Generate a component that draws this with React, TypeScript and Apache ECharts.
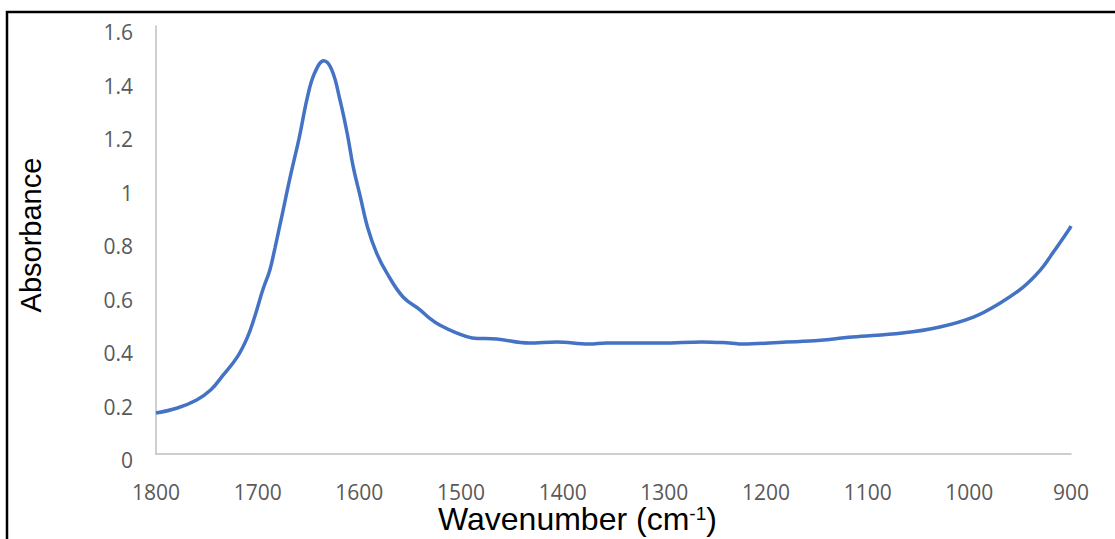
import React, { useEffect, useRef } from "react";
import * as echarts from "echarts";

const wavenumbers = [
  1800, 1779, 1760, 1746, 1734, 1720, 1710, 1703, 1695, 1688, 1683, 1677, 1668, 1659, 1651, 1644,
  1635, 1627, 1619, 1612, 1606, 1599, 1592, 1583, 1573, 1557, 1540, 1531, 1521, 1504, 1489, 1465,
  1433, 1406, 1374, 1357, 1302, 1263, 1236, 1223, 1180, 1157, 1115, 1066, 1029, 996, 970, 947, 930,
  918, 909, 901, 900,
];
const absorbance = [
  0.153, 0.172, 0.202, 0.24, 0.295, 0.363, 0.437, 0.512, 0.613, 0.688, 0.77, 0.875, 1.036, 1.185,
  1.335, 1.424, 1.47, 1.435, 1.323, 1.2, 1.073, 0.961, 0.849, 0.751, 0.677, 0.587, 0.538, 0.508,
  0.482, 0.452, 0.434, 0.43, 0.415, 0.419, 0.411, 0.415, 0.415, 0.419, 0.415, 0.411, 0.419, 0.422,
  0.437, 0.452, 0.475, 0.512, 0.564, 0.624, 0.688, 0.751, 0.8, 0.845, 0.852,
];

const xTitle = "Wavenumber (cm";
const xTitleSup = "-1";
const yTitle = "Absorbance";

export default function App() {
  const ref = useRef<HTMLDivElement>(null);
  useEffect(() => {
    if (!ref.current) return;
    const chart = echarts.init(ref.current, null, { renderer: "svg" });
    const data = wavenumbers.map((w, i) => [w, absorbance[i]]);
    chart.setOption({
      animation: false,
      backgroundColor: "#fff",
      grid: { left: 156, right: 1115 - 1071, top: 26, bottom: 539 - 454, containLabel: false },
      xAxis: {
        type: "value",
        inverse: true,
        min: 900,
        max: 1800,
        interval: 100,
        axisLine: { show: true, lineStyle: { color: "#bfbfbf", width: 1.5 } },
        axisTick: { show: false },
        splitLine: { show: false },
        axisLabel: {
          color: "#595959",
          fontFamily: "Open Sans",
          fontSize: 21,
          margin: 31,
          lineHeight: 14,
          formatter: (v: number) => String(v),
        },
      },
      yAxis: {
        type: "value",
        min: 0,
        max: 1.6,
        interval: 0.2,
        axisLine: { show: true, lineStyle: { color: "#bfbfbf", width: 1.5 } },
        axisTick: { show: false },
        splitLine: { show: false },
        axisLabel: {
          color: "#595959",
          fontFamily: "Open Sans",
          fontSize: 21,
          margin: 23,
          verticalAlign: "top",
          lineHeight: 12,
        },
      },
      series: [
        {
          type: "line",
          data,
          smooth: 0.4,
          showSymbol: false,
          lineStyle: { color: "#4472C4", width: 3.5 },
        },
      ],
      graphic: [
        {
          type: "rect",
          shape: { x: 7, y: 12, width: 1300, height: 700 },
          style: { fill: "none", stroke: "#000", lineWidth: 2.5 },
          silent: true,
        },
        {
          type: "text",
          x: 31,
          y: 235,
          rotation: Math.PI / 2,
          style: {
            text: yTitle,
            fill: "#000",
            font: '29px "Liberation Sans", Arial, sans-serif',
            align: "center",
            verticalAlign: "middle",
          },
        },
        {
          type: "text",
          x: 438,
          y: 519,
          style: {
            text: `{a|${xTitle}}{s|${xTitleSup}}{a|)}`,
            align: "left",
            verticalAlign: "middle",
            rich: {
              a: {
                fontSize: 32,
                lineHeight: 30,
                fontFamily: "Liberation Sans",
                fill: "#000",
                color: "#000",
              },
              s: {
                fontSize: 19,
                lineHeight: 30,
                fontFamily: "Liberation Sans",
                fill: "#000",
                color: "#000",
                verticalAlign: "top",
              },
            },
          },
        },
      ],
    });
    return () => chart.dispose();
  }, []);
  return (
    <div
      ref={ref}
      style={{ position: "fixed", left: 0, top: 0, width: 1115, height: 539 }}
    />
  );
}
